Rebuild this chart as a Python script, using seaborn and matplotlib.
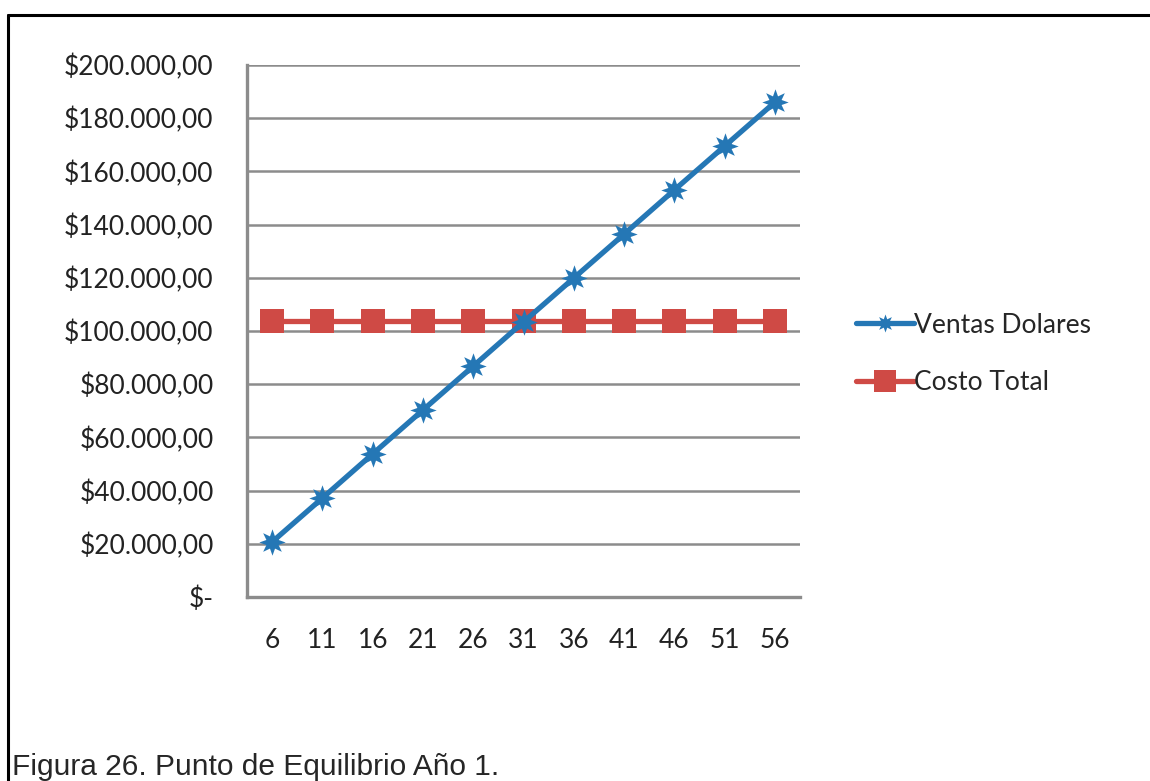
import matplotlib
matplotlib.use('Agg')
import matplotlib.pyplot as plt
import seaborn as sns
import pandas as pd
from matplotlib.lines import Line2D

# Datos
unidades = ['6', '11', '16', '21', '26', '31', '36', '41', '46', '51', '56']
ventas_dolares = [20700, 37200, 53800, 70300, 86800, 103400, 119900, 136400, 153000, 169500, 186000]
costo_total = [103800] * 11
y_ticks = [0, 20000, 40000, 60000, 80000, 100000, 120000, 140000, 160000, 180000, 200000]

df = pd.DataFrame({'Unidades': unidades, 'Ventas Dolares': ventas_dolares, 'Costo Total': costo_total})

sns.set_style('white')
plt.rcParams['font.family'] = ['Lato', 'DejaVu Sans']

azul = '#2577B5'
rojo = '#CF4A45'
gris = '#8C8C8C'

fig = plt.figure(figsize=(11.5, 7.81), dpi=100)
ax = fig.add_axes([247 / 1150, 1 - 597 / 781, 553 / 1150, 532 / 781])

sns.lineplot(data=df, x='Unidades', y='Costo Total', ax=ax, color=rojo, linewidth=3.8,
             marker='s', markersize=17, markeredgewidth=0, sort=False, zorder=3)
sns.lineplot(data=df, x='Unidades', y='Ventas Dolares', ax=ax, color=azul, linewidth=3.8,
             marker=(8, 1, 0), markersize=19, markeredgewidth=0, sort=False, zorder=4)

ax.set_xlim(-0.5, len(unidades) - 0.5)
ax.set_ylim(0, 200000)
ax.set_yticks(y_ticks)
ax.set_yticklabels(['$-'] + ['$' + f'{v:,.2f}'.replace(',', 'X').replace('.', ',').replace('X', '.') for v in y_ticks[1:]])
ax.set_xlabel('')
ax.set_ylabel('')
ax.tick_params(axis='both', length=0, labelsize=19, colors='#222222')
ax.tick_params(axis='y', pad=24)
ax.tick_params(axis='x', pad=22)

ax.grid(axis='y', color=gris, linewidth=1.8)
ax.set_axisbelow(True)
for s in ['top', 'right']:
    ax.spines[s].set_visible(False)
for s in ['left', 'bottom']:
    ax.spines[s].set_color(gris)
    ax.spines[s].set_linewidth(2.4)

handles = [
    Line2D([], [], color=azul, linewidth=3.8, marker=(8, 1, 0), markersize=13, markeredgewidth=0),
    Line2D([], [], color=rojo, linewidth=3.8, marker='s', markersize=16, markeredgewidth=0),
]
fig.legend(handles, ['Ventas Dolares', 'Costo Total'], loc='center left',
           bbox_to_anchor=(832 / 1150, 1 - 354 / 781), frameon=False, fontsize=19,
           handlelength=2.2, handletextpad=0.0, labelspacing=1.25)

# Borde del cuadro
fig.add_artist(Line2D([8 / 1150, 1], [1 - 15 / 781, 1 - 15 / 781], color='black', linewidth=2.2))
fig.add_artist(Line2D([8 / 1150, 8 / 1150], [0, 1 - 15 / 781], color='black', linewidth=2.2))

fig.text(12 / 1150, 1 - 775 / 781, 'Figura 26. Punto de Equilibrio Año 1.', fontsize=21.5,
         family=['Liberation Sans', 'DejaVu Sans'], va='baseline', ha='left')

fig.savefig('out.png', dpi=100)
